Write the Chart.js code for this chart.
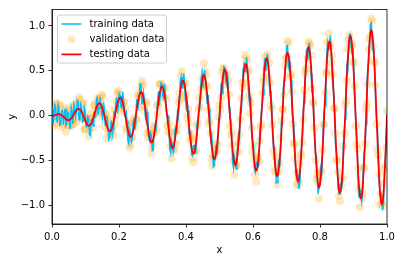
<!DOCTYPE html>
<html>
<head>
<meta charset="utf-8">
<script src="https://cdn.jsdelivr.net/npm/chart.js@4.4.1/dist/chart.umd.min.js"></script>
<style>
  html, body { margin: 0; padding: 0; background: #fff; }
  #wrap { width: 402px; height: 262px; }
</style>
</head>
<body>
<div id="wrap"><canvas id="chart" width="402" height="262"></canvas></div>
<script>
const xTicks = [0, 0.2, 0.4, 0.6, 0.8, 1.0];
const yTicks = [-1.0, -0.5, 0, 0.5, 1.0];

// sample positions shared by the three series (one row per oscillation)
const gridX = [
  0,.0026,.0052,.0078,.0104,.013,.0156,.0182,.0208,.0234,.026,.0286,.0313,.0339,.0365,.0391,.0417,.0443,.0469,.0495,.0521,.0547,.0573,.0599,
  .0625,.0651,.0677,.0703,.0729,.0755,.0781,.0807,.0833,.0859,.0885,.0911,.0938,.0964,.099,.1016,.1042,.1068,.1094,.112,.1146,.1172,.1198,.1224,
  .125,.1276,.1302,.1328,.1354,.138,.1406,.1432,.1458,.1484,.151,.1536,.1563,.1589,.1615,.1641,.1667,.1693,.1719,.1745,.1771,.1797,.1823,.1849,
  .1875,.1901,.1927,.1953,.1979,.2005,.2031,.2057,.2083,.2109,.2135,.2161,.2188,.2214,.224,.2266,.2292,.2318,.2344,.237,.2396,.2422,.2448,.2474,
  .25,.2526,.2552,.2578,.2604,.263,.2656,.2682,.2708,.2734,.276,.2786,.2813,.2839,.2865,.2891,.2917,.2943,.2969,.2995,.3021,.3047,.3073,.3099,
  .3125,.3151,.3177,.3203,.3229,.3255,.3281,.3307,.3333,.3359,.3385,.3411,.3438,.3464,.349,.3516,.3542,.3568,.3594,.362,.3646,.3672,.3698,.3724,
  .375,.3776,.3802,.3828,.3854,.388,.3906,.3932,.3958,.3984,.401,.4036,.4063,.4089,.4115,.4141,.4167,.4193,.4219,.4245,.4271,.4297,.4323,.4349,
  .4375,.4401,.4427,.4453,.4479,.4505,.4531,.4557,.4583,.4609,.4635,.4661,.4688,.4714,.474,.4766,.4792,.4818,.4844,.487,.4896,.4922,.4948,.4974,
  .5,.5026,.5052,.5078,.5104,.513,.5156,.5182,.5208,.5234,.526,.5286,.5313,.5339,.5365,.5391,.5417,.5443,.5469,.5495,.5521,.5547,.5573,.5599,
  .5625,.5651,.5677,.5703,.5729,.5755,.5781,.5807,.5833,.5859,.5885,.5911,.5938,.5964,.599,.6016,.6042,.6068,.6094,.612,.6146,.6172,.6198,.6224,
  .625,.6276,.6302,.6328,.6354,.638,.6406,.6432,.6458,.6484,.651,.6536,.6563,.6589,.6615,.6641,.6667,.6693,.6719,.6745,.6771,.6797,.6823,.6849,
  .6875,.6901,.6927,.6953,.6979,.7005,.7031,.7057,.7083,.7109,.7135,.7161,.7188,.7214,.724,.7266,.7292,.7318,.7344,.737,.7396,.7422,.7448,.7474,
  .75,.7526,.7552,.7578,.7604,.763,.7656,.7682,.7708,.7734,.776,.7786,.7813,.7839,.7865,.7891,.7917,.7943,.7969,.7995,.8021,.8047,.8073,.8099,
  .8125,.8151,.8177,.8203,.8229,.8255,.8281,.8307,.8333,.8359,.8385,.8411,.8438,.8464,.849,.8516,.8542,.8568,.8594,.862,.8646,.8672,.8698,.8724,
  .875,.8776,.8802,.8828,.8854,.888,.8906,.8932,.8958,.8984,.901,.9036,.9063,.9089,.9115,.9141,.9167,.9193,.9219,.9245,.9271,.9297,.9323,.9349,
  .9375,.9401,.9427,.9453,.9479,.9505,.9531,.9557,.9583,.9609,.9635,.9661,.9688,.9714,.974,.9766,.9792,.9818,.9844,.987,.9896,.9922,.9948,.9974,
  1
];

const trainY = [
  .07,-.099,-.047,.126,.109,-.047,-.064,.108,.048,-.103,-.097,.057,.06,-.099,-.008,.082,-.106,-.083,.043,.032,-.085,-.149,.091,.044,
  -.09,.127,.084,-.02,.043,.173,.158,-.042,-.028,.121,.084,-.066,-.06,.095,.06,-.122,-.12,-.013,-.039,-.208,-.219,-.043,-.04,-.112,
  .04,-.017,-.015,.194,.207,.013,.091,.208,.136,.025,-.024,.15,.08,-.101,-.111,.004,-.094,-.264,-.242,-.139,-.053,-.217,-.151,.052,
  -.03,.129,.206,.028,.111,.244,.223,.099,.09,.269,.177,.016,-.01,.033,-.052,-.28,-.309,-.154,-.194,-.289,-.258,-.061,-.042,-.154,
  -.09,.175,.178,.112,.206,.354,.346,.139,.135,.253,.178,-.018,-.06,.046,-.033,-.254,-.283,-.194,-.227,-.389,-.382,-.175,-.134,-.16,
  -.03,.162,.269,.116,.22,.364,.348,.219,.199,.357,.239,.048,-.01,0,-.115,-.369,-.417,-.275,-.319,-.41,-.366,-.15,-.105,-.186,
  .07,-.002,.14,.391,.434,.315,.311,.47,.373,.162,.091,.155,.06,-.196,-.196,-.183,-.431,-.445,-.332,-.33,-.41,-.414,-.096,-.053,
  .04,.064,.141,.415,.478,.315,.403,.51,.407,.246,.132,.231,.08,-.182,-.267,-.217,-.365,-.565,-.554,-.44,-.324,-.438,-.307,-.029,
  -.03,.21,.363,.249,.382,.546,.536,.401,.361,.49,.333,.097,-.01,-.048,-.208,-.501,-.579,-.456,-.507,-.591,-.528,-.282,-.199,-.235,
  .07,.046,.234,.523,.596,.496,.498,.651,.535,.294,.184,.203,.06,-.244,-.29,-.315,-.593,-.626,-.519,-.511,-.572,-.546,-.19,-.101,
  .04,.113,.235,.547,.64,.496,.591,.691,.569,.378,.226,.279,.08,-.231,-.361,-.35,-.527,-.747,-.742,-.622,-.486,-.571,-.401,-.077,
  -.09,.289,.396,.422,.584,.777,.783,.562,.513,.563,.397,.095,-.06,-.067,-.252,-.564,-.662,-.617,-.664,-.812,-.761,-.485,-.352,-.274,
  .04,.145,.298,.636,.749,.617,.716,.812,.678,.467,.288,.312,.08,-.263,-.423,-.438,-.636,-.867,-.867,-.742,-.595,-.659,-.464,-.11,
  .07,.111,.359,.7,.813,.737,.748,.892,.752,.471,.309,.268,.06,-.309,-.415,-.492,-.81,-.868,-.769,-.753,-.789,-.723,-.315,-.166,
  -.03,.307,.55,.514,.707,.908,.911,.763,.686,.755,.521,.194,-.01,-.145,-.396,-.766,-.904,-.818,-.882,-.953,-.853,-.547,-.386,-.332,
  -.09,.353,.521,.598,.801,1.018,1.033,.803,.73,.739,.522,.16,-.06,-.132,-.377,-.74,-.878,-.858,-.914,-1.053,-.977,-.661,-.477,-.338,
  .03
];

const valY = [
  .08,.051,-.117,-.084,.039,.133,.146,-.022,-.042,.097,.113,-.123,-.09,.011,.032,.072,-.176,-.103,-.027,.092,.065,-.119,-.099,.014,
  -.04,-.093,.124,.12,-.067,.043,.138,.208,.182,-.009,-.036,.114,.14,-.145,-.15,-.032,-.04,-.023,-.229,-.158,-.029,.027,-.03,-.132,
  .12,.123,.015,.074,.197,.033,.051,.198,.146,.235,.216,-.01,-.11,.029,.009,-.256,-.174,-.134,-.042,-.069,-.223,-.167,-.211,.072,
  -.1,-.011,.156,.258,.281,.234,.183,.089,.05,.119,.147,.156,.08,-.137,-.172,-.1,-.079,-.354,-.324,-.249,-.238,-.081,-.022,-.134,
  -.04,-.045,.218,.252,.096,.224,.326,.389,.345,.123,.058,.162,.14,-.194,-.243,-.164,-.203,-.204,-.417,-.339,-.192,-.105,-.124,-.18,
  .12,.022,.109,.346,.36,.354,.238,.209,.309,.207,.309,.188,-.11,-.17,-.085,-.189,-.337,-.475,-.229,-.37,-.386,-.17,-.305,-.166,
  -.1,.148,.25,.181,.444,.495,.371,.34,.213,.362,.241,-.025,.08,-.086,-.266,-.193,-.241,-.465,-.512,-.27,-.4,-.384,-.116,-.083,
  .08,.204,.101,.295,.418,.335,.583,.5,.337,.456,.332,.071,-.09,-.052,-.187,-.477,-.555,-.435,-.464,-.37,-.314,-.388,-.317,-.009,
  .12,.07,.203,.479,.522,.536,.426,.391,.471,.34,.403,.237,-.11,-.218,-.178,-.321,-.499,-.656,-.417,-.551,-.548,-.302,-.399,-.215,
  -.04,.196,.374,.313,.366,.676,.638,.521,.615,.494,.214,.023,.14,-.134,-.4,-.325,-.473,-.646,-.729,-.451,-.462,-.516,-.28,-.131,
  -.1,.253,.375,.427,.66,.516,.621,.681,.429,.588,.366,.119,.08,-.101,-.391,-.61,-.457,-.617,-.762,-.552,-.616,-.521,-.241,-.057,
  .08,.069,.226,.562,.634,.647,.833,.812,.553,.433,.457,.275,-.09,-.307,-.312,-.474,-.772,-.627,-.714,-.762,-.531,-.415,-.442,-.294,
  -.04,.285,.468,.516,.529,.637,.826,.802,.778,.677,.308,.152,.14,-.133,-.493,-.698,-.636,-.737,-.917,-.672,-.625,-.609,-.374,-.09,
  -.1,.261,.469,.49,.823,.917,.808,.762,.592,.671,.459,.088,.08,-.199,-.485,-.502,-.62,-.888,-.949,-.693,-.779,-.693,-.335,-.196,
  .12,.167,.39,.744,.847,.898,.801,.753,.796,.605,.591,.334,-.11,-.315,-.366,-.586,-.824,-1.018,-.792,-.913,-.873,-.567,-.586,-.312,
  .08,.133,.351,.738,.851,.888,1.083,1.053,.77,.609,.582,.34,-.09,-.372,-.437,-.65,-.988,-.868,-.964,-1.003,-.747,-.591,-.567,-.358,
  .05
];

const testY = [
  0,.001,.003,.006,.009,.013,.016,.018,.018,.017,.013,.007,0,-.009,-.018,-.028,-.036,-.043,-.047,-.048,-.045,-.039,-.029,-.016,
  0,.017,.034,.05,.063,.073,.078,.078,.072,.061,.044,.024,0,-.025,-.05,-.072,-.09,-.103,-.109,-.108,-.099,-.083,-.06,-.032,
  0,.033,.065,.094,.117,.133,.141,.138,.126,.105,.076,.04,0,-.041,-.081,-.116,-.144,-.164,-.172,-.169,-.153,-.127,-.091,-.048,
  0,.049,.096,.138,.171,.194,.203,.199,.18,.149,.107,.056,0,-.057,-.112,-.16,-.199,-.224,-.234,-.229,-.208,-.171,-.122,-.064,
  0,.065,.128,.182,.226,.254,.266,.259,.235,.193,.138,.072,0,-.074,-.143,-.204,-.253,-.284,-.297,-.289,-.262,-.215,-.154,-.08,
  0,.082,.159,.226,.28,.314,.328,.319,.289,.237,.169,.088,0,-.09,-.175,-.249,-.307,-.345,-.359,-.35,-.316,-.26,-.185,-.096,
  0,.098,.19,.271,.334,.375,.391,.38,.343,.282,.201,.105,0,-.106,-.206,-.293,-.361,-.405,-.422,-.41,-.37,-.304,-.216,-.113,
  0,.114,.221,.315,.388,.435,.453,.44,.397,.326,.232,.121,0,-.122,-.237,-.337,-.415,-.465,-.484,-.47,-.424,-.348,-.247,-.129,
  0,.13,.253,.359,.442,.496,.516,.501,.451,.37,.263,.137,0,-.138,-.268,-.381,-.469,-.526,-.547,-.531,-.478,-.392,-.279,-.145,
  0,.146,.284,.403,.496,.556,.578,.561,.505,.414,.294,.153,0,-.154,-.3,-.425,-.523,-.586,-.609,-.591,-.532,-.436,-.31,-.161,
  0,.163,.315,.447,.55,.616,.641,.621,.559,.458,.326,.169,0,-.171,-.331,-.47,-.577,-.647,-.672,-.652,-.586,-.481,-.341,-.177,
  0,.179,.346,.492,.604,.677,.703,.682,.613,.503,.357,.185,0,-.187,-.362,-.514,-.632,-.707,-.734,-.712,-.641,-.525,-.372,-.194,
  0,.195,.378,.536,.659,.737,.766,.742,.668,.547,.388,.202,0,-.203,-.393,-.558,-.686,-.767,-.797,-.772,-.695,-.569,-.404,-.21,
  0,.211,.409,.58,.713,.797,.828,.802,.722,.591,.419,.218,0,-.219,-.425,-.602,-.74,-.828,-.859,-.833,-.749,-.613,-.435,-.226,
  0,.227,.44,.624,.767,.858,.891,.863,.776,.635,.451,.234,0,-.235,-.456,-.646,-.794,-.888,-.922,-.893,-.803,-.657,-.466,-.242,
  0,.243,.471,.668,.821,.918,.953,.923,.83,.679,.482,.25,0,-.252,-.487,-.69,-.848,-.948,-.984,-.953,-.857,-.701,-.497,-.258,
  0
];

const FONT = { family: "'DejaVu Sans', sans-serif", size: 10 };
const TRAIN_COLOR = '#00bfff';
const VAL_COLOR = 'rgba(255, 165, 0, 0.25)';
const TEST_COLOR = '#ff0000';

const toPoints = (xs, ys) => xs.map((x, i) => ({ x: x, y: ys[i] }));
const fmtTick = v => (v < 0 ? '\u2212' : '') + Math.abs(v).toFixed(1);

// matplotlib-like legend box in the upper left of the axes + top/right spines
const mplLegend = {
  id: 'mplLegend',
  afterDatasetsDraw(chart) {
    const ctx = chart.ctx;
    const area = chart.chartArea;
    ctx.save();
    ctx.strokeStyle = '#000';
    ctx.lineWidth = 0.8;
    ctx.strokeRect(area.left, area.top, area.right - area.left, area.bottom - area.top);

    const x0 = area.left + 5.5, y0 = area.top + 5.5;
    const w = 109, h = 48;
    ctx.beginPath();
    ctx.roundRect(x0, y0, w, h, 2);
    ctx.fillStyle = 'rgba(255,255,255,0.8)';
    ctx.fill();
    ctx.strokeStyle = '#cccccc';
    ctx.lineWidth = 1;
    ctx.stroke();

    ctx.font = "10px 'DejaVu Sans', sans-serif";
    ctx.textBaseline = 'middle';
    ctx.textAlign = 'left';
    chart.data.datasets.forEach((ds, i) => {
      const cy = y0 + 9 + i * 15.2;
      if (ds.showLine) {
        ctx.beginPath();
        ctx.moveTo(x0 + 4, cy);
        ctx.lineTo(x0 + 24, cy);
        ctx.strokeStyle = ds.borderColor;
        ctx.lineWidth = ds.borderWidth;
        ctx.stroke();
      } else {
        ctx.beginPath();
        ctx.arc(x0 + 14, cy, ds.pointRadius, 0, Math.PI * 2);
        ctx.fillStyle = ds.backgroundColor;
        ctx.fill();
      }
      ctx.fillStyle = '#000';
      ctx.fillText(ds.label, x0 + 32, cy + 0.5);
    });
    ctx.restore();
  }
};

new Chart(document.getElementById('chart'), {
  type: 'scatter',
  data: {
    datasets: [
      {
        label: 'training data',
        data: toPoints(gridX, trainY),
        showLine: true,
        borderColor: TRAIN_COLOR,
        borderWidth: 1.5,
        pointRadius: 0,
        tension: 0,
        order: 1
      },
      {
        label: 'validation data',
        data: toPoints(gridX, valY),
        showLine: false,
        backgroundColor: VAL_COLOR,
        borderWidth: 0,
        pointRadius: 4,
        order: 2
      },
      {
        label: 'testing data',
        data: toPoints(gridX, testY),
        showLine: true,
        borderColor: TEST_COLOR,
        borderWidth: 1.75,
        pointRadius: 0,
        cubicInterpolationMode: 'monotone',
        order: 0
      }
    ]
  },
  options: {
    responsive: false,
    animation: false,
    events: [],
    layout: { padding: { top: 6, right: 15, left: 0, bottom: 0 } },
    plugins: { legend: { display: false }, tooltip: { enabled: false } },
    scales: {
      x: {
        type: 'linear',
        min: 0,
        max: 1,
        afterFit(scale) { scale.height = 38; },
        afterBuildTicks(scale) { scale.ticks = xTicks.map(v => ({ value: v })); },
        ticks: { callback: v => fmtTick(v), font: FONT, color: '#000', padding: 3.5, maxRotation: 0, autoSkip: false },
        grid: { drawOnChartArea: false, drawTicks: true, tickLength: 3.5, color: '#000', lineWidth: 0.8 },
        border: { display: true, color: '#000', width: 0.8 },
        title: { display: true, text: 'x', font: FONT, color: '#000', padding: { top: 0, bottom: 6 } }
      },
      y: {
        type: 'linear',
        min: -1.203,
        max: 1.183,
        afterFit(scale) { scale.width = 52; },
        afterBuildTicks(scale) { scale.ticks = yTicks.map(v => ({ value: v })); },
        ticks: { callback: v => fmtTick(v), font: FONT, color: '#000', padding: 3.5, autoSkip: false },
        grid: { drawOnChartArea: false, drawTicks: true, tickLength: 3.5, color: '#000', lineWidth: 0.8 },
        border: { display: true, color: '#000', width: 0.8 },
        title: { display: true, text: 'y', font: FONT, color: '#000', padding: { top: 6, bottom: 0 } }
      }
    }
  },
  plugins: [mplLegend]
});
</script>
</body>
</html>
